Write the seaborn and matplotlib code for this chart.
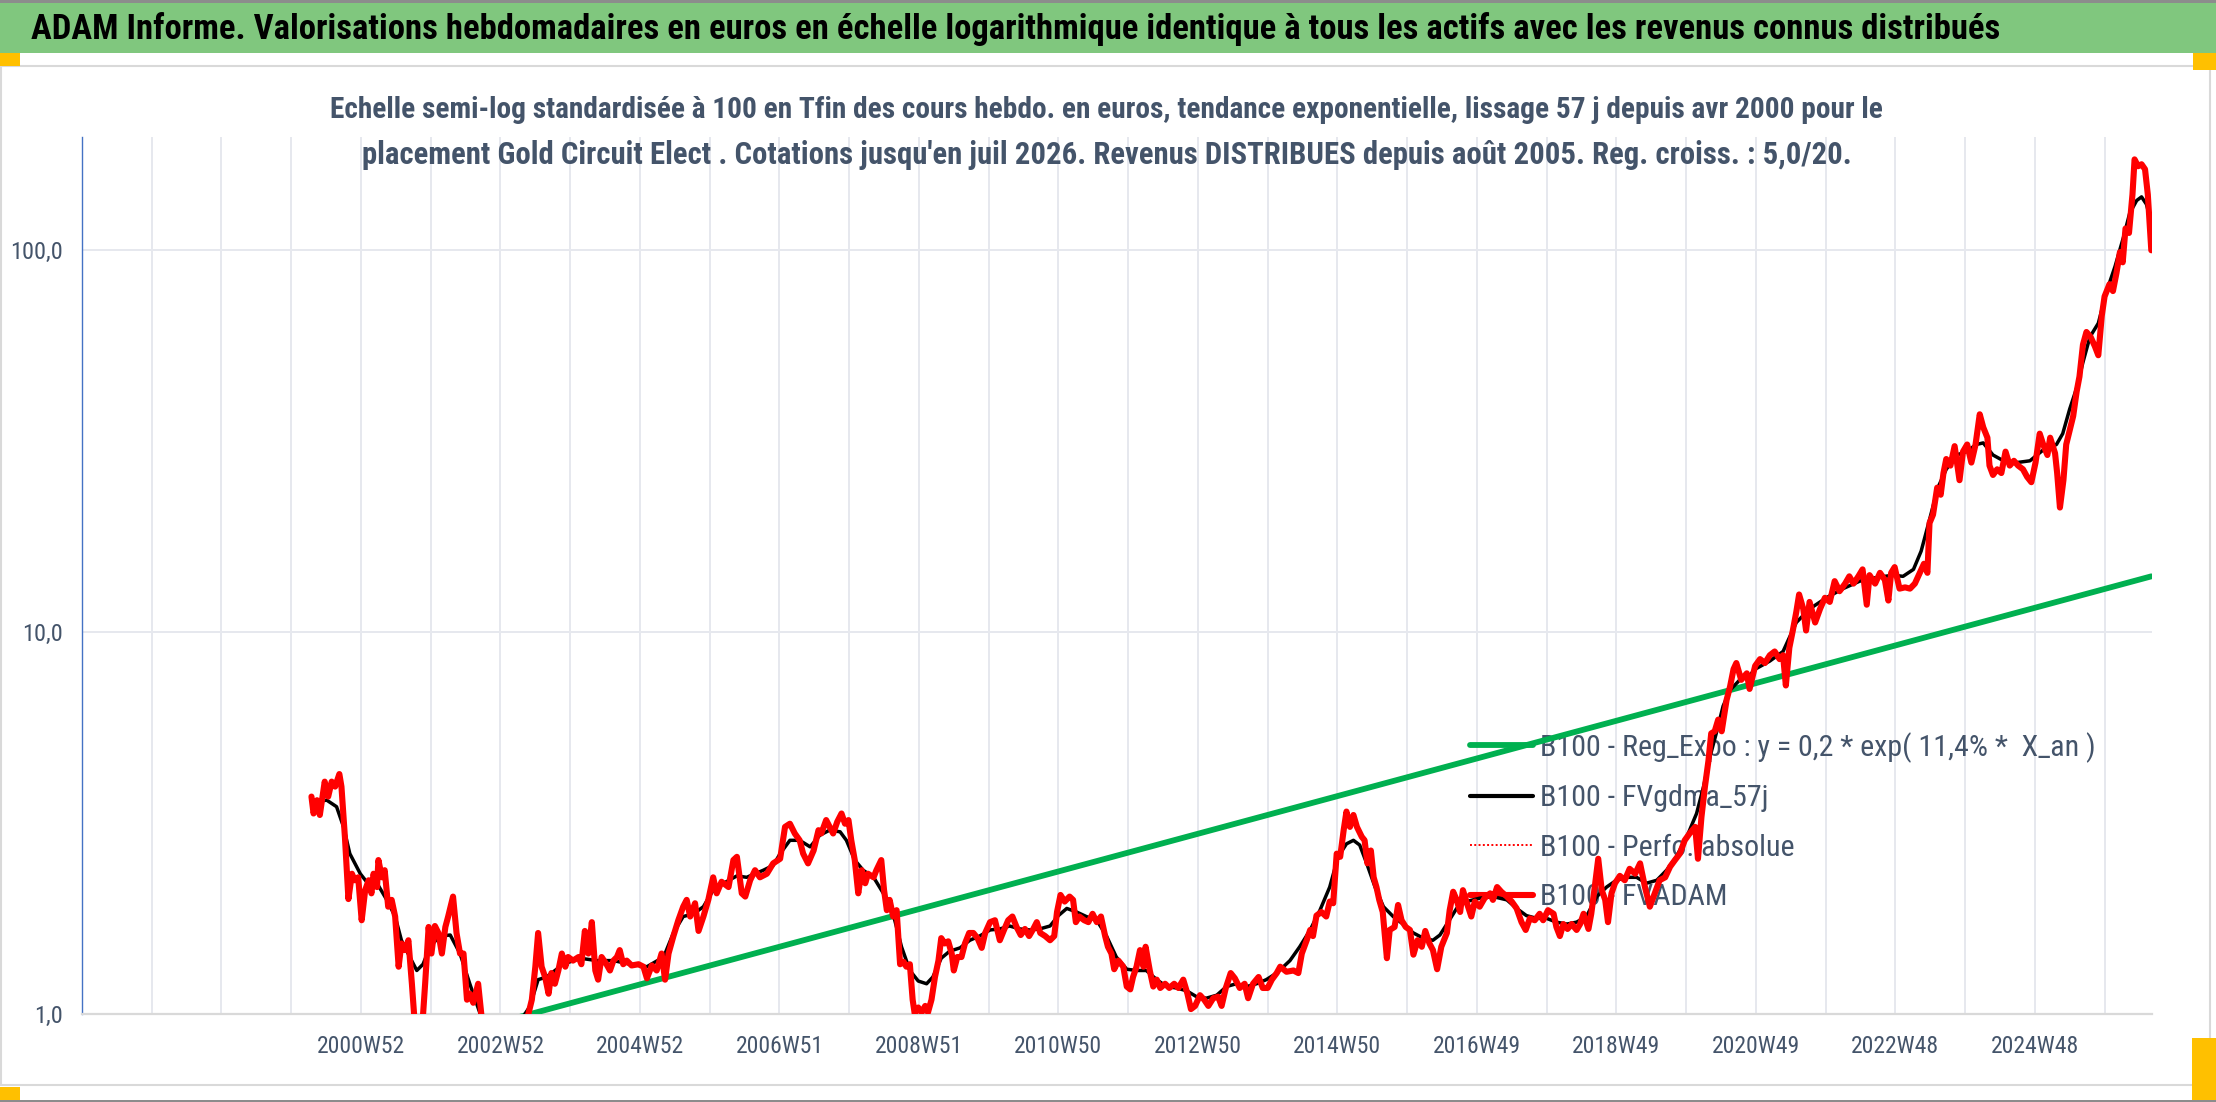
import matplotlib
matplotlib.use('Agg')
import matplotlib.pyplot as plt
import matplotlib.font_manager as fm
from matplotlib.patches import Rectangle
from matplotlib.lines import Line2D
from matplotlib.ticker import NullLocator
import seaborn as sns

W, H, DPI = 2216, 1102, 100

title = ("ADAM Informe. Valorisations hebdomadaires en euros en échelle logarithmique "
         "identique à tous les actifs avec les revenus connus distribués")
subtitle1 = ("Echelle semi-log standardisée à 100 en Tfin des cours hebdo. en euros, tendance "
             "exponentielle, lissage 57 j depuis avr 2000 pour le")
subtitle2 = ("placement Gold Circuit Elect . Cotations jusqu'en juil 2026. Revenus DISTRIBUES "
             "depuis août 2005. Reg. croiss. : 5,0/20.")

legend_labels = ["B100 - Reg_Expo : y = 0,2 * exp( 11,4% *  X_an )",
                 "B100 - FVgdma_57j",
                 "B100 - Perfo. absolue",
                 "B100 - FVADAM"]

# x in decimal years; one category gridline per 52 weeks
tick_years = list(range(1997, 2027))
label_years = [2001, 2003, 2005, 2007, 2009, 2011, 2013, 2015, 2017, 2019, 2021, 2023, 2025]
label_texts = ["2000W52", "2002W52", "2004W52", "2006W51", "2008W51", "2010W50", "2012W50",
               "2014W50", "2016W49", "2018W49", "2020W49", "2022W48", "2024W48"]
y_ticks = [1, 10, 100]
y_labels = ["1,0", "10,0", "100,0"]

# regression line (read at both ends)
reg_years = [2000.29, 2026.67]
reg_vals = [0.70, 14.0]

# FVADAM weekly values
adam_years = [
    2000.29, 2000.32, 2000.37, 2000.41, 2000.48, 2000.53, 2000.58, 2000.63, 2000.69, 2000.72,
    2000.77, 2000.82, 2000.87, 2000.91, 2000.96, 2001.01, 2001.06, 2001.11, 2001.15, 2001.18,
    2001.23, 2001.25, 2001.30, 2001.34, 2001.39, 2001.44, 2001.49, 2001.54, 2001.58, 2001.63,
    2001.68, 2001.73, 2001.77, 2001.82, 2001.87, 2001.92, 2001.97, 2002.01, 2002.06, 2002.11,
    2002.16, 2002.21, 2002.25, 2002.32, 2002.37, 2002.42, 2002.47, 2002.52, 2002.56, 2002.61,
    2002.68, 2002.73, 2002.85, 2003.00, 2003.20, 2003.35, 2003.40, 2003.45, 2003.50, 2003.54,
    2003.59, 2003.64, 2003.69, 2003.73, 2003.78, 2003.83, 2003.88, 2003.93, 2003.97, 2004.04,
    2004.12, 2004.16, 2004.21, 2004.26, 2004.31, 2004.36, 2004.40, 2004.45, 2004.52, 2004.57,
    2004.62, 2004.67, 2004.71, 2004.76, 2004.81, 2004.88, 2004.98, 2005.05, 2005.10, 2005.17,
    2005.24, 2005.31, 2005.36, 2005.41, 2005.48, 2005.55, 2005.62, 2005.67, 2005.72, 2005.79,
    2005.84, 2005.91, 2005.98, 2006.05, 2006.10, 2006.17, 2006.27, 2006.34, 2006.39, 2006.46,
    2006.51, 2006.58, 2006.65, 2006.72, 2006.82, 2006.91,
    2007.01, 2007.08, 2007.15, 2007.22, 2007.29, 2007.34, 2007.41, 2007.49, 2007.56, 2007.60,
    2007.67, 2007.72, 2007.77, 2007.83, 2007.89, 2007.94, 2007.99, 2008.03, 2008.08, 2008.13,
    2008.18, 2008.23, 2008.27, 2008.35, 2008.39, 2008.46, 2008.50, 2008.54, 2008.58, 2008.63,
    2008.68, 2008.73, 2008.78, 2008.82, 2008.87, 2008.91, 2008.94, 2008.99, 2009.04, 2009.09,
    2009.13, 2009.18, 2009.23, 2009.28, 2009.32, 2009.37, 2009.42, 2009.47, 2009.50, 2009.55,
    2009.61, 2009.66, 2009.72, 2009.78, 2009.84, 2009.90, 2009.95, 2010.02, 2010.09, 2010.16,
    2010.22, 2010.28, 2010.34, 2010.40, 2010.46, 2010.52, 2010.58, 2010.64, 2010.69, 2010.74,
    2010.81, 2010.88, 2010.94, 2010.98, 2011.03, 2011.09, 2011.16, 2011.21, 2011.25, 2011.30,
    2011.37, 2011.43, 2011.49, 2011.55, 2011.61, 2011.67, 2011.71, 2011.76, 2011.80, 2011.86,
    2011.93, 2011.98, 2012.03, 2012.07, 2012.12, 2012.17, 2012.22, 2012.25, 2012.31, 2012.36,
    2012.41, 2012.46, 2012.53, 2012.59, 2012.66, 2012.72, 2012.79, 2012.85, 2012.90, 2012.96,
    2013.03, 2013.09, 2013.15, 2013.22, 2013.29, 2013.34, 2013.40, 2013.47, 2013.53, 2013.60,
    2013.67, 2013.72, 2013.79, 2013.87, 2013.93, 2014.00, 2014.06, 2014.13,
    2014.18, 2014.27, 2014.37, 2014.44, 2014.49, 2014.56, 2014.61, 2014.65, 2014.70, 2014.77,
    2014.84, 2014.89, 2014.94, 2014.99, 2015.04, 2015.09, 2015.13, 2015.18, 2015.23, 2015.28,
    2015.35, 2015.39, 2015.43, 2015.48, 2015.52, 2015.56, 2015.60, 2015.65, 2015.71, 2015.75,
    2015.82, 2015.87, 2015.92, 2015.98, 2016.04, 2016.09, 2016.15, 2016.21, 2016.26, 2016.32,
    2016.37, 2016.43, 2016.49, 2016.57, 2016.61, 2016.66, 2016.71, 2016.76, 2016.80, 2016.85,
    2016.92, 2016.97, 2017.04, 2017.11, 2017.19, 2017.23, 2017.29, 2017.35, 2017.43, 2017.50,
    2017.57, 2017.64, 2017.70, 2017.76, 2017.83, 2017.90, 2017.95, 2018.02, 2018.10, 2018.14,
    2018.19, 2018.24, 2018.30, 2018.36, 2018.43, 2018.48, 2018.53, 2018.60, 2018.64, 2018.69,
    2018.74, 2018.79, 2018.84, 2018.88, 2018.93, 2018.98, 2019.05, 2019.12, 2019.19, 2019.27,
    2019.34, 2019.41, 2019.48, 2019.55, 2019.62, 2019.70, 2019.77, 2019.84, 2019.91, 2019.98,
    2020.05, 2020.13, 2020.17, 2020.22, 2020.27, 2020.32, 2020.36, 2020.41, 2020.46, 2020.51,
    2020.58, 2020.63,
    2020.68, 2020.72, 2020.79, 2020.87, 2020.91, 2020.99, 2021.06, 2021.13, 2021.20, 2021.27,
    2021.34, 2021.39, 2021.43, 2021.48, 2021.53, 2021.58, 2021.62, 2021.68, 2021.72, 2021.77,
    2021.85, 2021.92, 2021.99, 2022.06, 2022.13, 2022.20, 2022.28, 2022.34, 2022.40, 2022.47,
    2022.53, 2022.59, 2022.63, 2022.71, 2022.78, 2022.85, 2022.90, 2022.94, 2022.99, 2023.06,
    2023.14, 2023.21, 2023.28, 2023.35, 2023.41, 2023.46, 2023.49, 2023.54, 2023.60, 2023.65,
    2023.69, 2023.73, 2023.79, 2023.85, 2023.92, 2023.97, 2024.03, 2024.09, 2024.15, 2024.21,
    2024.26, 2024.32, 2024.35, 2024.40, 2024.46, 2024.52, 2024.58, 2024.64, 2024.70, 2024.76,
    2024.83, 2024.89, 2024.95, 2025.01, 2025.07, 2025.12, 2025.18, 2025.22, 2025.29, 2025.32,
    2025.36, 2025.41, 2025.45, 2025.50, 2025.55, 2025.60, 2025.64, 2025.69, 2025.74, 2025.80,
    2025.86, 2025.91, 2025.96, 2026.00, 2026.07, 2026.12, 2026.17, 2026.22, 2026.26, 2026.30,
    2026.35, 2026.40, 2026.43, 2026.48, 2026.53, 2026.58, 2026.62, 2026.67]
adam_vals = [
    3.71, 3.35, 3.63, 3.32, 4.06, 3.71, 4.06, 3.94, 4.25, 3.94,
    2.90, 2.00, 2.33, 2.24, 2.28, 1.76, 2.11, 2.24, 2.07, 2.33,
    2.15, 2.53, 2.28, 2.38, 1.91, 1.99, 1.80, 1.33, 1.53, 1.47,
    1.56, 1.20, 0.95, 0.85, 0.88, 1.20, 1.69, 1.44, 1.70, 1.63,
    1.44, 1.69, 1.80, 2.03, 1.63, 1.44, 1.44, 1.09, 1.13, 1.07,
    1.20, 0.98, 0.80, 0.75, 0.85, 0.95, 1.00, 1.09, 1.33, 1.63,
    1.33, 1.25, 1.13, 1.28, 1.20, 1.30, 1.44, 1.33, 1.41, 1.38,
    1.41, 1.35, 1.65, 1.44, 1.74, 1.30, 1.23, 1.41, 1.35, 1.30,
    1.38, 1.41, 1.47, 1.35, 1.38, 1.34, 1.35, 1.33, 1.24, 1.34,
    1.30, 1.44, 1.23, 1.44, 1.60, 1.76, 1.91, 1.99, 1.80, 1.95,
    1.65, 1.80, 1.99, 2.28, 2.07, 2.22, 2.15, 2.53, 2.58, 2.07,
    2.03, 2.24, 2.38, 2.28, 2.33, 2.48,
    2.55, 3.09, 3.15, 2.97, 2.85, 2.63, 2.48, 2.68, 3.03, 2.97,
    3.22, 3.09, 2.97, 3.19, 3.35, 3.15, 3.22, 2.85, 2.53, 2.07,
    2.38, 2.20, 2.33, 2.28, 2.38, 2.53, 2.11, 1.87, 1.99, 1.80,
    1.87, 1.35, 1.37, 1.33, 1.35, 1.09, 1.00, 1.04, 1.01, 1.05,
    1.01, 1.09, 1.25, 1.38, 1.58, 1.53, 1.55, 1.44, 1.30, 1.41,
    1.41, 1.53, 1.63, 1.63, 1.58, 1.49, 1.63, 1.74, 1.76, 1.56,
    1.66, 1.76, 1.80, 1.69, 1.61, 1.67, 1.60, 1.67, 1.74, 1.63,
    1.60, 1.56, 1.60, 1.85, 2.05, 1.97, 2.03, 1.99, 1.74, 1.80,
    1.76, 1.74, 1.83, 1.74, 1.80, 1.60, 1.50, 1.44, 1.31, 1.38,
    1.33, 1.18, 1.16, 1.25, 1.33, 1.47, 1.33, 1.50, 1.30, 1.18,
    1.23, 1.17, 1.20, 1.17, 1.20, 1.17, 1.23, 1.13, 1.03, 1.05,
    1.12, 1.09, 1.05, 1.10, 1.11, 1.05, 1.17, 1.28, 1.24, 1.17,
    1.20, 1.10, 1.20, 1.25, 1.17, 1.17, 1.23, 1.28,
    1.33, 1.29, 1.30, 1.28, 1.44, 1.56, 1.66, 1.60, 1.81, 1.85,
    1.80, 1.97, 1.95, 2.63, 2.58, 3.03, 3.39, 3.09, 3.32, 3.09,
    2.91, 2.85, 2.48, 2.68, 2.28, 2.15, 1.99, 1.85, 1.40, 1.66,
    1.69, 1.93, 1.76, 1.69, 1.66, 1.43, 1.56, 1.50, 1.65, 1.53,
    1.47, 1.31, 1.50, 1.63, 1.87, 2.09, 1.99, 1.85, 2.11, 1.97,
    1.80, 1.97, 1.91, 2.01, 2.07, 1.99, 2.15, 2.09, 2.03, 1.97,
    1.89, 1.74, 1.66, 1.78, 1.76, 1.83, 1.76, 1.87, 1.83, 1.69,
    1.60, 1.72, 1.67, 1.72, 1.66, 1.72, 1.83, 1.67, 1.83, 2.15,
    2.55, 2.11, 1.99, 1.74, 2.07, 2.20, 2.30, 2.24, 2.40, 2.33,
    2.48, 2.15, 1.91, 2.07, 2.24, 2.28, 2.43, 2.53, 2.63, 2.85,
    2.97, 3.09, 2.55, 3.28, 3.94, 4.60, 5.43, 5.50, 5.90, 5.50,
    6.64, 7.20,
    8.0, 8.3, 7.5, 7.8, 7.1, 8.16, 8.5, 8.3, 8.7, 8.9,
    8.5, 8.7, 7.25, 9.1, 10.1, 11.3, 12.55, 11.5, 10.1, 12.0,
    10.6, 11.5, 12.3, 12.0, 13.6, 12.8, 13.4, 14.0, 13.4, 14.0,
    14.6, 11.8, 14.1, 13.4, 14.3, 13.7, 12.1, 14.3, 14.8, 13.0,
    13.1, 13.0, 13.4, 14.3, 15.1, 14.3, 19.3, 20.3, 23.9, 22.9,
    26.1, 28.4, 27.3, 30.7, 25.0, 29.7, 31.0, 27.8, 31.0, 37.2,
    34.4, 32.3, 27.3, 25.8, 26.7, 26.1, 29.7, 27.3, 28.1, 27.3,
    26.7, 25.5, 24.7, 27.8, 33.1, 31.0, 29.1, 32.3, 29.4, 26.1,
    21.2, 25.0, 31.0, 33.8, 36.8, 42.7, 46.7, 56.6, 61.1, 59.3,
    56.1, 53.1, 67.4, 75.7, 81.5, 78.2, 87.1, 98.9, 93.0, 114.0,
    111.0, 140.0, 173.0, 166.0, 168.0, 163.0, 140.0, 100.0]

# FVgdma_57j smoothed curve
gdma_years = [
    2000.32, 2000.51, 2000.65, 2000.75, 2000.84, 2000.99, 2001.08, 2001.23, 2001.37, 2001.49,
    2001.58, 2001.70, 2001.80, 2001.89, 2001.99, 2002.13, 2002.28, 2002.42, 2002.56, 2002.71,
    2002.85, 2003.10, 2003.30, 2003.35, 2003.42, 2003.54, 2003.66, 2003.90, 2004.14, 2004.38,
    2004.62, 2004.86, 2005.10, 2005.34, 2005.48, 2005.62, 2005.77, 2005.91, 2006.05, 2006.20,
    2006.39, 2006.53, 2006.77, 2006.91,
    2007.01, 2007.15, 2007.29, 2007.44, 2007.58, 2007.72, 2007.87, 2007.96, 2008.08, 2008.20,
    2008.35, 2008.49, 2008.63, 2008.75, 2008.87, 2008.99, 2009.11, 2009.20, 2009.32, 2009.44,
    2009.59, 2009.73, 2009.87, 2010.02, 2010.16, 2010.30, 2010.45, 2010.59, 2010.73, 2010.88,
    2011.00, 2011.12, 2011.26, 2011.40, 2011.55, 2011.69, 2011.83, 2011.98, 2012.12, 2012.26,
    2012.41, 2012.55, 2012.69, 2012.84, 2012.98, 2013.12, 2013.27, 2013.41, 2013.55, 2013.70,
    2013.84, 2013.98, 2014.13,
    2014.32, 2014.46, 2014.61, 2014.75, 2014.89, 2015.01, 2015.13, 2015.23, 2015.32, 2015.42,
    2015.54, 2015.66, 2015.80, 2015.94, 2016.09, 2016.23, 2016.37, 2016.47, 2016.57, 2016.71,
    2016.85, 2017.04, 2017.23, 2017.43, 2017.57, 2017.71, 2017.86, 2018.00, 2018.14, 2018.29,
    2018.43, 2018.57, 2018.72, 2018.86, 2019.00, 2019.15, 2019.29, 2019.43, 2019.58, 2019.72,
    2019.86, 2020.01, 2020.15, 2020.25, 2020.34, 2020.44, 2020.53, 2020.63,
    2020.77, 2020.91, 2020.99, 2021.20, 2021.39, 2021.58, 2021.77, 2022.01, 2022.25, 2022.49,
    2022.73, 2022.97, 2023.11, 2023.26, 2023.37, 2023.49, 2023.61, 2023.73, 2023.88, 2024.02,
    2024.16, 2024.26, 2024.40, 2024.55, 2024.74, 2024.93, 2025.12, 2025.31, 2025.40, 2025.50,
    2025.60, 2025.69, 2025.79, 2025.91, 2026.03, 2026.15, 2026.27, 2026.36, 2026.46, 2026.53,
    2026.60, 2026.67]
gdma_vals = [
    3.60, 3.63, 3.49, 3.09, 2.63, 2.33, 2.22, 2.20, 1.99, 1.80,
    1.56, 1.41, 1.30, 1.35, 1.50, 1.60, 1.61, 1.44, 1.20, 1.00,
    0.90, 0.85, 0.92, 1.00, 1.045, 1.23, 1.25, 1.35, 1.40, 1.38,
    1.38, 1.35, 1.33, 1.41, 1.63, 1.80, 1.83, 1.91, 2.11, 2.20,
    2.30, 2.28, 2.38, 2.45,
    2.63, 2.85, 2.85, 2.74, 2.94, 3.03, 3.00, 2.85, 2.53, 2.38,
    2.28, 2.07, 1.83, 1.50, 1.30, 1.22, 1.20, 1.25, 1.40, 1.46,
    1.49, 1.56, 1.60, 1.66, 1.67, 1.70, 1.67, 1.66, 1.67, 1.70,
    1.81, 1.89, 1.85, 1.80, 1.76, 1.60, 1.41, 1.31, 1.30, 1.30,
    1.23, 1.18, 1.17, 1.15, 1.11, 1.10, 1.12, 1.18, 1.20, 1.18,
    1.20, 1.23, 1.28,
    1.38, 1.50, 1.66, 1.87, 2.15, 2.58, 2.79, 2.85, 2.77, 2.48,
    2.15, 1.91, 1.80, 1.72, 1.63, 1.58, 1.56, 1.61, 1.72, 1.89,
    1.97, 2.01, 2.03, 1.99, 1.89, 1.81, 1.78, 1.78, 1.74, 1.72,
    1.74, 1.80, 2.03, 2.15, 2.24, 2.28, 2.28, 2.20, 2.24, 2.38,
    2.58, 2.91, 3.35, 3.94, 4.70, 5.50, 6.40, 7.05,
    7.5, 7.7, 8.0, 8.4, 8.9, 10.6, 11.5, 12.3, 13.0, 13.6,
    13.9, 14.1, 14.0, 14.6, 16.3, 19.7, 23.9, 26.7, 29.1, 29.7,
    31.0, 31.3, 29.1, 28.1, 27.8, 28.1, 30.0, 31.0, 33.1, 38.4,
    43.6, 50.9, 59.3, 64.4, 78.2, 90.7, 108.0, 125.0, 135.0, 138.0,
    132.0, 118.0]

GREEN = '#00B050'
RED = '#FF0000'
TXT = '#44546A'
GRID = '#E6E8EE'

sns.set_theme(style='white')
installed = {f.name for f in fm.fontManager.ttflist}
fam = next((f for f in ['Liberation Sans Narrow', 'Roboto Condensed', 'Open Sans Condensed',
                        'Liberation Sans'] if f in installed), 'DejaVu Sans')
plt.rcParams['font.family'] = [fam, 'DejaVu Sans']

fig = plt.figure(figsize=(W / DPI, H / DPI), dpi=DPI, facecolor='white')


def rect(x0, y0, x1, y1, **kw):
    # pixel box measured from the top-left corner
    fig.patches.append(Rectangle((x0 / W, 1 - y1 / H), (x1 - x0) / W, (y1 - y0) / H,
                                 transform=fig.transFigure, **kw))


rect(0, 0, W, 2.5, color='#8C8C8C', lw=0)
rect(0, 2.5, W, 53, color='#80C77E', lw=0)
rect(0.5, 66, 2210, 1085, fill=False, edgecolor='#D9D9D9', lw=1.5)
rect(0, 1099.5, W, H, color='#8C8C8C', lw=0)
for box in [(0, 53, 20, 66), (2193, 53, W, 70), (0, 1087, 20, 1099.5), (2192, 1038, W, 1099.5)]:
    rect(*box, color='#FFC000', lw=0)

renderer = fig.canvas.get_renderer()


def fit_text(x, y, s, target_w, size, **kw):
    t = fig.text(x, y, s, fontsize=size, **kw)
    w = t.get_window_extent(renderer).width
    t.set_fontsize(size * target_w / w)
    return t


fit_text(31 / W, 1 - 29 / H, title, 1960, 20, ha='left', va='center',
         weight='bold', color='black')
fit_text(1106 / W, 1 - 110 / H, subtitle1, 1555, 18, ha='center', va='center',
         weight='bold', color=TXT)
fit_text(1107 / W, 1 - 155 / H, subtitle2, 1488, 18, ha='center', va='center',
         weight='bold', color=TXT)

ax = fig.add_axes([82 / W, 1 - 1014 / H, (2152 - 82) / W, (1014 - 137) / H])
ax.set_facecolor('white')

sns.lineplot(x=reg_years, y=reg_vals, ax=ax, color=GREEN, lw=4.2, zorder=3)
sns.lineplot(x=gdma_years, y=gdma_vals, ax=ax, color='black', lw=2.5, zorder=4)
sns.lineplot(x=adam_years, y=adam_vals, ax=ax, color=RED, lw=1.2, ls=':', zorder=4.5)
sns.lineplot(x=adam_years, y=adam_vals, ax=ax, color=RED, lw=4.4, zorder=5,
             solid_joinstyle='round')

ax.set_yscale('log')
ax.set_ylim(1, 198)
ax.set_xlim(1997.0, 2026.68)
ax.set_yticks(y_ticks)
ax.set_yticklabels(y_labels)
ax.yaxis.set_minor_locator(NullLocator())
ax.set_xticks(tick_years)
ax.set_xticklabels([label_texts[label_years.index(t)] if t in label_years else ''
                    for t in tick_years])
ax.set_xlabel('')
ax.set_ylabel('')

ax.set_axisbelow(True)
ax.grid(True, axis='both', color=GRID, lw=1.4)
for side in ['top', 'right']:
    ax.spines[side].set_visible(False)
ax.spines['left'].set_color('#4472C4')
ax.spines['left'].set_linewidth(1.0)
ax.spines['bottom'].set_color('#D9D9D9')
ax.spines['bottom'].set_linewidth(1.6)
ax.tick_params(axis='x', direction='out', length=5, width=1.2, color='#D9D9D9',
               labelsize=17, labelcolor=TXT, pad=10)
ax.tick_params(axis='y', length=0, labelsize=17.5, labelcolor=TXT, pad=14)

# legend sits under the data lines, no frame
probe = fig.text(0, 0, legend_labels[0], fontsize=20)
lfs = 20 * 555 / probe.get_window_extent(renderer).width
probe.remove()
em = lfs * DPI / 72
handles = [Line2D([], [], color=GREEN, lw=4.2),
           Line2D([], [], color='black', lw=3.0),
           Line2D([], [], color=RED, lw=1.4, ls=(0, (1, 1.2))),
           Line2D([], [], color=RED, lw=4.4)]
leg = ax.legend(handles, legend_labels, loc='upper left',
                bbox_to_anchor=(1470 / W, 1 - 732 / H), bbox_transform=fig.transFigure,
                frameon=False, borderpad=0, borderaxespad=0, fontsize=lfs,
                handlelength=63 / em, handletextpad=7 / em, labelspacing=0.5 + 6.5 / em)
for t in leg.get_texts():
    t.set_color(TXT)
leg.set_zorder(1)

fig.savefig('out.png', dpi=DPI, facecolor='white')
